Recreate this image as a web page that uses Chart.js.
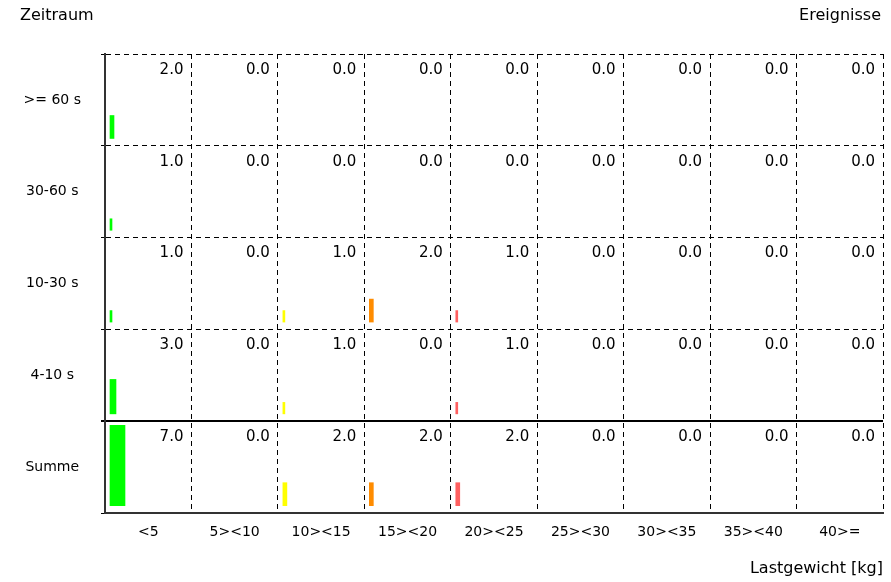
<!DOCTYPE html>
<html>
<head>
<meta charset="utf-8">
<script src="https://cdn.jsdelivr.net/npm/chart.js@4.4.1/dist/chart.umd.min.js"></script>
<style>
  html, body { margin: 0; padding: 0; background: #fff; }
  #wrap { width: 891px; height: 582px; }
</style>
</head>
<body>
<div id="wrap"><canvas id="chart" width="891" height="582"></canvas></div>
<script>
// Lastgewicht-Klassen (Spalten) und Zeiträume (Zeilen, von oben nach unten)
const categories = ['<5', '5><10', '10><15', '15><20', '20><25', '25><30', '30><35', '35><40', '40>='];
const periods = ['>= 60 s', '30-60 s', '10-30 s', '4-10 s', 'Summe'];

// Ereignisse je Zeile
const events60 = [2, 0, 0, 0, 0, 0, 0, 0, 0];
const events30to60 = [1, 0, 0, 0, 0, 0, 0, 0, 0];
const events10to30 = [1, 0, 1, 2, 1, 0, 0, 0, 0];
const events4to10 = [3, 0, 1, 0, 1, 0, 0, 0, 0];
const eventsSum = [7, 0, 2, 2, 2, 0, 0, 0, 0];

const rows = [events60, events30to60, events10to30, events4to10, eventsSum];

// Farbe je Spalte
const colColors = ['#00ff00', '#80ff00', '#ffff00', '#ff8c00', '#ff6060', '#ff3030', '#ff0000', '#e00000', '#c00000'];

const colPx = 86.5;      // ungefähre Spaltenbreite in px
const unit = 0.125;      // Balkenhöhe je Ereignis (Zeilenanteil)
const baseGap = 0.08;    // Abstand Balken zur Zeilenunterkante

// ein Datensatz pro Balken, da die Breite vom Wert abhängt
const datasets = [];
rows.forEach((vals, r) => {
    const rowBase = periods.length - 1 - r;
    vals.forEach((v, c) => {
        if (!v) return;
        const w = Math.round(2.1 * v);
        datasets.push({
            data: [{ x: c + (5 + w / 2) / colPx, y: [rowBase + baseGap, rowBase + baseGap + v * unit] }],
            backgroundColor: colColors[c],
            borderWidth: 0,
            barThickness: w,
            grouped: false,
            xAxisID: 'x',
            yAxisID: 'y'
        });
    });
});

const textPlugin = {
    id: 'texts',
    afterDatasetsDraw(chart) {
        const ctx = chart.ctx;
        const xs = chart.scales.x;
        const ys = chart.scales.y;
        ctx.save();
        ctx.fillStyle = '#000';
        ctx.font = '15px "DejaVu Sans"';
        ctx.textBaseline = 'middle';
        // Zahlenwerte oben rechts in jeder Zelle
        ctx.textAlign = 'right';
        rows.forEach((vals, r) => {
            const top = periods.length - r;
            vals.forEach((v, c) => {
                ctx.fillText(v.toFixed(1), xs.getPixelForValue(c + 1) - 8, ys.getPixelForValue(top) + 16);
            });
        });
        // Überschriften
        ctx.font = '16px "DejaVu Sans"';
        ctx.textAlign = 'left';
        ctx.fillText('Zeitraum', 20, 16);
        ctx.textAlign = 'right';
        ctx.fillText('Ereignisse', 881, 16);
        ctx.restore();
    }
};

Chart.defaults.font.family = '"DejaVu Sans", sans-serif';
Chart.defaults.font.size = 14;
Chart.defaults.color = '#000';

new Chart(document.getElementById('chart'), {
    type: 'bar',
    data: { datasets: datasets },
    options: {
        responsive: false,
        animation: false,
        events: [],
        layout: { padding: { top: 54, right: 8, left: 0, bottom: 0 } },
        plugins: {
            legend: { display: false },
            tooltip: { enabled: false }
        },
        scales: {
            x: {
                type: 'linear',
                position: 'bottom',
                offset: false,
                min: 0,
                max: categories.length,
                ticks: { stepSize: 1, display: false },
                grid: { color: '#000', drawTicks: false, offset: false },
                border: { display: true, color: '#333', width: 2, dash: [5, 4] },
                afterFit: s => { s.height = 0; }
            },
            x2: {
                type: 'category',
                labels: categories,
                position: 'bottom',
                offset: true,
                grid: { display: false, drawTicks: false },
                border: { display: false },
                ticks: { padding: 11 },
                title: { display: true, text: 'Lastgewicht [kg]', align: 'end', font: { size: 16 }, padding: { top: 0, bottom: 4 } },
                afterFit: s => { s.height = 69; }
            },
            y: {
                type: 'linear',
                position: 'left',
                weight: 0,
                min: 0,
                max: periods.length,
                ticks: { stepSize: 1, display: false },
                grid: {
                    color: '#000',
                    lineWidth: ctx => (ctx.tick && ctx.tick.value === 1 ? 2 : 1),
                    drawTicks: true,
                    tickLength: 4,
                    tickColor: '#000'
                },
                border: {
                    display: true, color: '#333', width: 2,
                    dash: ctx => (ctx.tick && ctx.tick.value === 1 ? [] : [5, 4])
                },
                afterFit: s => { s.width = 0; }
            },
            y2: {
                type: 'category',
                labels: periods,
                position: 'left',
                weight: 1,
                offset: true,
                grid: { display: false, drawTicks: false },
                border: { display: false },
                ticks: { crossAlign: 'center', padding: 24 },
                afterFit: s => { s.width = 105; }
            }
        }
    },
    plugins: [textPlugin]
});
</script>
</body>
</html>
